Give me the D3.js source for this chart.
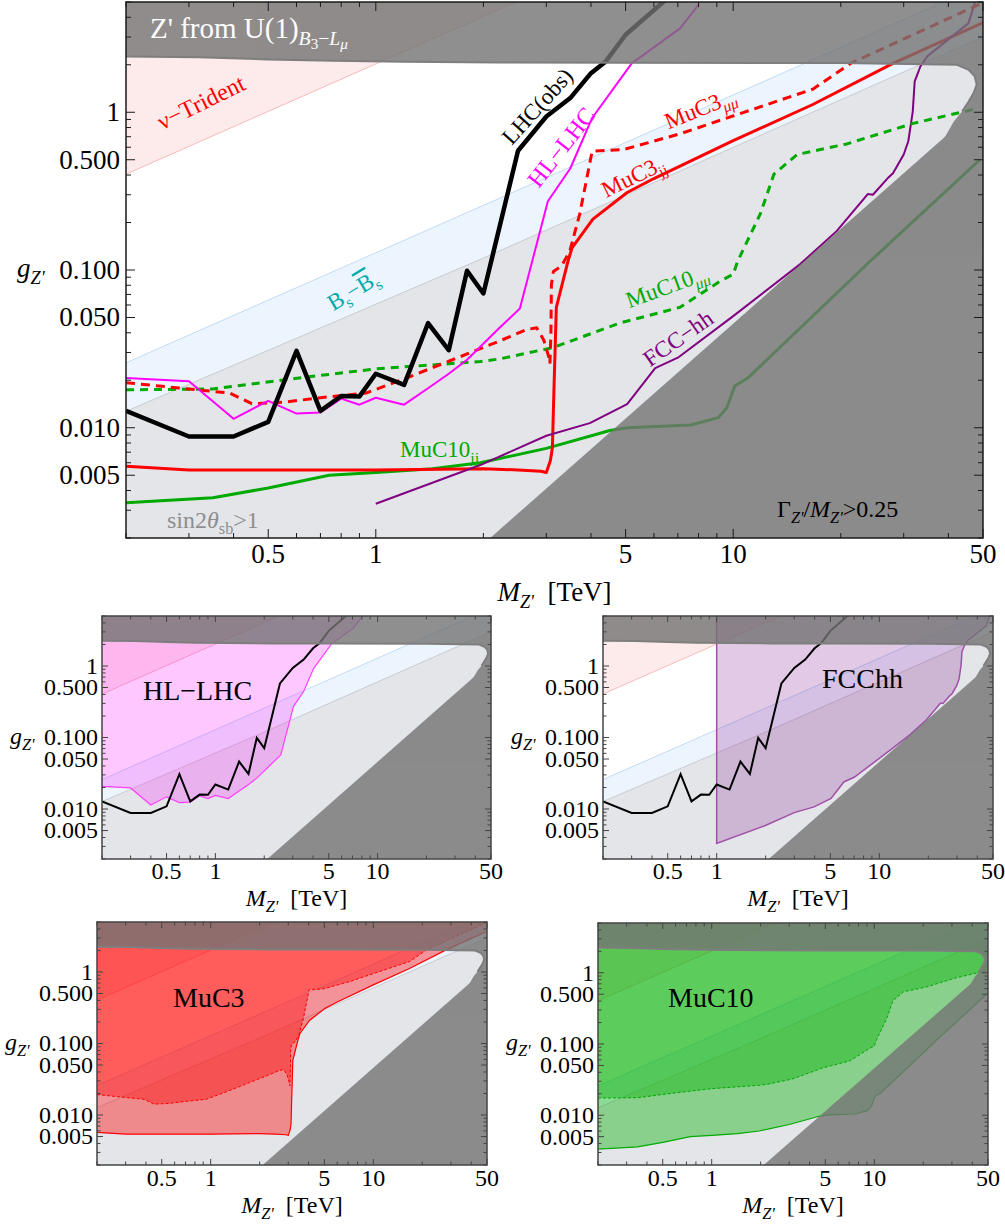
<!DOCTYPE html>
<html><head><meta charset="utf-8">
<script src="https://cdn.jsdelivr.net/npm/d3@7"></script>
<style>body{margin:0;background:#fff} text{font-family:"Liberation Serif","DejaVu Serif",serif}</style>
</head><body><svg id="c" width="1005" height="1225" font-family="Liberation Serif, DejaVu Serif, serif"></svg>
<script>
// ---------------- data ----------------
const massTicks = [0.5, 1, 5, 10, 50];
const massTickLabels = ["0.5", "1", "5", "10", "50"];
const couplingTicks = [1, 0.5, 0.1, 0.05, 0.01, 0.005];
const couplingTickLabels = ["1", "0.500", "0.100", "0.050", "0.010", "0.005"];

const lhcObs = [[0.2,0.0128],[0.3,0.0088],[0.4,0.0088],[0.5,0.0109],[0.6,0.0307],[0.7,0.0128],[0.8,0.0159],[0.9,0.0158],[1.0,0.022],[1.2,0.0187],[1.4,0.046],[1.6,0.031],[1.8,0.099],[2.0,0.071],[2.5,0.57],[3.0,0.94],[3.5,1.23],[4.0,1.77],[4.4,2.1],[5.0,3.1],[6.5,5.2]];
const hlLhc = [[0.2,0.0207],[0.3,0.0197],[0.4,0.0114],[0.5,0.0148],[0.6,0.0123],[0.7,0.0125],[0.8,0.0153],[0.9,0.014],[1.0,0.0155],[1.2,0.014],[1.4,0.0178],[1.6,0.022],[1.8,0.027],[2.22,0.043],[2.53,0.057],[3.03,0.273],[3.5,0.44],[4.03,0.92],[5.2,2.04],[7.1,3.4],[8.0,4.8]];
const muc3MuMu = [[0.2,0.0193],[0.3,0.0176],[0.39,0.0166],[0.45,0.0142],[0.55,0.0145],[0.7,0.0155],[0.94,0.0166],[1.2,0.0204],[1.6,0.0264],[2.22,0.0355],[2.65,0.042],[2.82,0.043],[2.95,0.036],[3.05,0.028],[3.07,0.0255],[3.09,0.039],[3.1,0.081],[3.14,0.098],[3.31,0.106],[3.49,0.132],[3.72,0.226],[4.03,0.566],[4.93,0.58],[7.1,0.73],[10.3,0.97],[16.7,1.40],[21.3,2.04],[49.5,4.9]];
const muc3JJ = [[0.2,0.0057],[0.3,0.0054],[0.5,0.0054],[1,0.0054],[2,0.0055],[2.5,0.0054],[2.9,0.0053],[3.0,0.0052],[3.08,0.0062],[3.12,0.0075],[3.15,0.017],[3.2,0.058],[3.45,0.114],[3.54,0.138],[4.05,0.21],[5.05,0.31],[6.0,0.38],[10,0.66],[16.7,1.12],[28,2.04],[50,3.7]];
const muc10MuMu = [[0.2,0.0174],[0.35,0.0176],[0.61,0.0207],[1,0.0236],[1.96,0.0263],[2.22,0.0273],[3.13,0.0322],[4.8,0.046],[7.1,0.058],[9.2,0.085],[10,0.094],[10.3,0.114],[11.9,0.226],[13,0.405],[15.1,0.54],[20.8,0.63],[31.9,0.85],[48.5,1.06]];
const muc10JJ = [[0.2,0.00335],[0.35,0.0036],[0.5,0.00415],[0.74,0.0050],[1,0.0052],[1.44,0.0055],[1.96,0.0060],[3,0.0074],[4.52,0.0096],[5.05,0.0100],[7.6,0.0104],[9.1,0.0116],[9.6,0.0134],[10.1,0.0184],[11,0.0207],[24.2,0.114],[49,0.5]];
const fccHH = [[1,0.0033],[1.96,0.0058],[3,0.0089],[3.97,0.0107],[5.05,0.0141],[6.05,0.0239],[7,0.0278],[10,0.051],[15.4,0.109],[19.5,0.177],[23.8,0.303],[24.6,0.30],[27,0.38],[28,0.41],[30,0.54],[30.9,0.655],[31.8,1.01],[32.2,1.57],[33.4,1.95],[34.9,2.26],[45.5,3.66],[47.6,5.05]];

// region boundaries
const topEdge = [[0.2,2.26],[0.32,2.23],[0.5,2.16],[0.76,2.12],[1.2,2.09],[2.2,2.07],[5,2.06],[20,2.05],[42.3,2.0],[45.6,1.86],[47.4,1.69],[48,1.5],[47.1,1.33],[45.6,1.17],[43.7,1.01],[41.5,0.88],[38,0.62]];
const sinEdge = [[0.2,0.0127],[2,0.119],[20,1.2],[50,3.0]];
const bsUpper = [[0.2,0.0258],[2.22,0.285],[40,5.16]];
const tridentEdge = [[0.2,0.405],[2.5,5.06]];
const widthEdge = [[2.09,0.002],[50,1.14]];

// ---------------- drawing ----------------
const svg = d3.select('#c');

function rich(sel, parts, fs) {
  let lvl = 0;
  const sz = l => l === 0 ? fs : (l === 1 ? fs * 0.68 : fs * 0.52);
  const off = l => l === 0 ? 0 : (l === 1 ? fs * 0.25 : fs * 0.38);
  parts.forEach(p => {
    const l = p.sub || 0;
    const ts = sel.append('tspan').text(p.t).attr('font-size', sz(l));
    const d = off(l) - off(lvl);
    if (d !== 0) ts.attr('dy', d);
    if (p.it) ts.attr('font-style', 'italic');
    if (p.ol) ts.style('text-decoration', 'overline');
    lvl = l;
  });
}

let clipN = 0;
function panel(cfg) {
  const xS = d3.scaleLog().domain([0.2, 50]).range([cfg.x0, cfg.x1]);
  const yS = d3.scaleLog().domain([0.002, 5]).range([cfg.y1, cfg.y0]);
  const line = d3.line().x(d => xS(d[0])).y(d => yS(d[1]));
  const id = 'clip' + (clipN++);
  svg.append('clipPath').attr('id', id).append('rect')
    .attr('x', cfg.x0).attr('y', cfg.y0).attr('width', cfg.x1 - cfg.x0).attr('height', cfg.y1 - cfg.y0);
  const g = svg.append('g').attr('clip-path', `url(#${id})`);

  // sin2theta > 1 (light gray) background
  g.append('rect').attr('x', cfg.x0).attr('y', cfg.y0).attr('width', cfg.x1 - cfg.x0).attr('height', cfg.y1 - cfg.y0).attr('fill', '#e3e5e9');
  g.append('path').attr('d', line([...sinEdge, [50, 6], [0.2, 6]]) + 'Z').attr('fill', '#ffffff');
  // Bs mixing band
  g.append('path').attr('d', line([...sinEdge, [50, 6], ...bsUpper.slice().reverse()]) + 'Z').attr('fill', '#a8cdf5').attr('opacity', 0.22);
  // nu-trident band
  g.append('path').attr('d', line([...tridentEdge, [2.5, 6], [0.2, 6]]) + 'Z').attr('fill', '#f5a0a0').attr('opacity', 0.22);
  g.append('path').attr('d', line(sinEdge)).attr('fill', 'none').attr('stroke', '#c9cbcf').attr('stroke-width', 1);
  g.append('path').attr('d', line(bsUpper)).attr('fill', 'none').attr('stroke', '#c2dbf4').attr('stroke-width', 1);
  g.append('path').attr('d', line(tridentEdge)).attr('fill', 'none').attr('stroke', '#f7bcbc').attr('stroke-width', 1);

  cfg.draw(g, line, xS, yS);

  // dark excluded regions
  const dk = g.append('g').attr('opacity', 0.8);
  dk.append('path').attr('d', line([[0.2, 6], ...topEdge, [50, 0.62], [50, 6]]) + 'Z').attr('fill', '#747474');
  dk.append('path').attr('d', line([...widthEdge, [50, 0.001], [1.5, 0.001]]) + 'Z').attr('fill', '#747474');
  g.append('path').attr('d', line(topEdge.slice(0, 15))).attr('fill', 'none').attr('stroke', '#7e7e7e').attr('stroke-width', 2);

  if (cfg.after) cfg.after(g, line, xS, yS);

  // frame
  svg.append('rect').attr('x', cfg.x0).attr('y', cfg.y0).attr('width', cfg.x1 - cfg.x0).attr('height', cfg.y1 - cfg.y0)
    .attr('fill', 'none').attr('stroke', cfg.frame).attr('stroke-width', cfg.fw);
  // ticks
  const tk = svg.append('g').attr('stroke', cfg.frame).attr('stroke-width', 1);
  const isMaj = (arr, v) => arr.some(a => Math.abs(a - v) / a < 1e-6);
  xS.ticks().forEach(v => {
    const L = isMaj(massTicks, v) ? cfg.tMaj : cfg.tMin, x = xS(v);
    tk.append('line').attr('x1', x).attr('x2', x).attr('y1', cfg.y1).attr('y2', cfg.y1 - L);
    tk.append('line').attr('x1', x).attr('x2', x).attr('y1', cfg.y0).attr('y2', cfg.y0 + L);
  });
  yS.ticks().forEach(v => {
    const L = isMaj(couplingTicks, v) ? cfg.tMaj : cfg.tMin, y = yS(v);
    tk.append('line').attr('x1', cfg.x0).attr('x2', cfg.x0 + L).attr('y1', y).attr('y2', y);
    tk.append('line').attr('x1', cfg.x1).attr('x2', cfg.x1 - L).attr('y1', y).attr('y2', y);
  });
  // tick labels
  massTicks.forEach((v, i) => {
    svg.append('text').attr('x', xS(v)).attr('y', cfg.xlabY).attr('text-anchor', 'middle')
      .attr('font-size', cfg.fs).attr('fill', '#000').text(massTickLabels[i]);
  });
  couplingTicks.forEach((v, i) => {
    svg.append('text').attr('x', cfg.x0 - cfg.lgap).attr('y', yS(v) + cfg.fs * 0.33).attr('text-anchor', 'end')
      .attr('font-size', cfg.fs).attr('fill', '#000').text(couplingTickLabels[i]);
  });
  // axis titles
  const xt = svg.append('text').attr('x', (cfg.x0 + cfg.x1) / 2).attr('y', cfg.titleY).attr('text-anchor', 'middle').attr('font-size', cfg.fs);
  rich(xt, [{t: 'M', it: 1}, {t: "Z'", sub: 1, it: 1}, {t: '\u00a0\u00a0[TeV]'}], cfg.fs);
  const yt = svg.append('text').attr('x', cfg.ylabX).attr('y', yS(0.1) + cfg.fs * 0.25).attr('font-size', cfg.fs);
  rich(yt, [{t: 'g', it: 1}, {t: "Z'", sub: 1, it: 1}], cfg.fs);
}

function label(g, cx, cy, ang, color, fs, parts) {
  const t = g.append('text').attr('transform', `translate(${cx},${cy}) rotate(${ang})`)
    .attr('text-anchor', 'middle').attr('y', fs * 0.35).attr('fill', color).attr('font-size', fs);
  rich(t, parts, fs);
}
function plain(g, x, y, color, fs, parts) {
  const t = g.append('text').attr('x', x).attr('y', y).attr('fill', color).attr('font-size', fs);
  rich(t, parts, fs);
}

// ---------- main panel ----------
panel({
  x0: 126, x1: 983, y0: 2, y1: 538, fs: 27, tMaj: 9, tMin: 5, xlabY: 563, titleY: 601, ylabX: 17, lgap: 6,
  frame: '#1a1a1a', fw: 1.5,
  draw: (g, line) => {
    const L = (data, color, w, dash) => {
      const p = g.append('path').attr('d', line(data)).attr('fill', 'none').attr('stroke', color)
        .attr('stroke-width', w).attr('stroke-linejoin', 'round');
      if (dash) p.attr('stroke-dasharray', dash);
    };
    L(muc10JJ, '#00aa00', 3);
    L(muc3JJ, '#ff0000', 3);
    L(fccHH, '#800080', 2);
    L(muc10MuMu, '#00aa00', 3, '8,6');
    L(muc3MuMu, '#ff0000', 3, '9,6');
    L(hlLhc, '#ff00ff', 2);
    L(lhcObs, '#000000', 4.5);
  },
  after: (g) => {
    plain(g, 150, 38, '#ffffff', 29, [{t: "Z' from U(1)"}, {t: 'B', sub: 1, it: 1}, {t: '3', sub: 2}, {t: '\u2212', sub: 1}, {t: 'L', sub: 1, it: 1}, {t: '\u03bc', sub: 2, it: 1}]);
    label(g, 201, 102, -26, '#ff0000', 24, [{t: '\u03bd\u2212Trident'}]);
    label(g, 537, 106, -48, '#000000', 23, [{t: 'LHC(obs)'}]);
    label(g, 561, 147, -52, '#ff00ff', 24, [{t: 'HL\u2212LHC'}]);
    label(g, 700, 108, -22, '#ff0000', 23, [{t: 'MuC3'}, {t: '\u03bc\u03bc', sub: 1, it: 1}]);
    label(g, 633, 176, -26, '#ff0000', 23, [{t: 'MuC3'}, {t: 'jj', sub: 1}]);
    label(g, 353, 290, -31, '#00aaaa', 23, [{t: 'B'}, {t: 's', sub: 1}, {t: '\u2212'}, {t: 'B', ol: 1}, {t: 's', sub: 1}]);
    label(g, 667, 286, -20, '#00aa00', 23, [{t: 'MuC10'}, {t: '\u03bc\u03bc', sub: 1, it: 1}]);
    label(g, 678, 338, -35, '#800080', 23, [{t: 'FCC\u2212hh'}]);
    plain(g, 400, 457, '#00aa00', 23, [{t: 'MuC10'}, {t: 'jj', sub: 1}]);
    plain(g, 167, 528, '#8e8e8e', 24, [{t: 'sin2'}, {t: '\u03b8', it: 1}, {t: 'sb', sub: 1}, {t: '>1'}]);
    plain(g, 777, 517, '#000000', 24, [{t: '\u0393'}, {t: "Z'", sub: 1, it: 1}, {t: '/'}, {t: 'M', it: 1}, {t: "Z'", sub: 1, it: 1}, {t: '>0.25'}]);
  }
});

// ---------- insets ----------
const insetBase = {fs: 24, tMaj: 6, tMin: 3.5, lgap: 4, frame: '#444', fw: 1.5};

panel(Object.assign({}, insetBase, {
  x0: 102, x1: 491, y0: 616, y1: 859, xlabY: 879, titleY: 906, ylabX: 10,
  draw: (g, line) => {
    g.append('path').attr('d', line([...hlLhc, [8.3, 6], [0.2, 6]]) + 'Z').attr('fill', '#ff00ff').attr('opacity', 0.22);
    g.append('path').attr('d', line(hlLhc)).attr('fill', 'none').attr('stroke', '#ff40ff').attr('stroke-width', 1.2);
    g.append('path').attr('d', line(lhcObs)).attr('fill', 'none').attr('stroke', '#000').attr('stroke-width', 2);
  },
  after: (g) => plain(g, 143, 700, '#000', 28, [{t: 'HL\u2212LHC'}])
}));

panel(Object.assign({}, insetBase, {
  x0: 603, x1: 993, y0: 616, y1: 859, xlabY: 879, titleY: 906, ylabX: 511,
  draw: (g, line) => {
    g.append('path').attr('d', line([[1, 6], ...fccHH, [48, 6]]) + 'Z').attr('fill', '#8c2896').attr('opacity', 0.25);
    g.append('path').attr('d', line([[1, 6], ...fccHH])).attr('fill', 'none').attr('stroke', '#a050a8').attr('stroke-width', 1.5);
    g.append('path').attr('d', line(lhcObs)).attr('fill', 'none').attr('stroke', '#000').attr('stroke-width', 2);
  },
  after: (g) => plain(g, 822, 688, '#000', 28, [{t: 'FCChh'}])
}));

panel(Object.assign({}, insetBase, {
  x0: 97, x1: 487, y0: 922, y1: 1165, xlabY: 1186, titleY: 1213, ylabX: 5,
  draw: (g, line) => {
    g.append('path').attr('d', line([...muc3JJ, [50, 6], [0.2, 6]]) + 'Z').attr('fill', '#ff0000').attr('opacity', 0.4);
    g.append('path').attr('d', line([...muc3MuMu, [50, 6], [0.2, 6]]) + 'Z').attr('fill', '#ff0000').attr('opacity', 0.4);
    g.append('path').attr('d', line(muc3JJ)).attr('fill', 'none').attr('stroke', '#ff0000').attr('stroke-width', 1.2);
    g.append('path').attr('d', line(muc3MuMu)).attr('fill', 'none').attr('stroke', '#ff0000').attr('stroke-width', 1).attr('stroke-dasharray', '3,2');
  },
  after: (g) => plain(g, 173, 1007, '#000', 28, [{t: 'MuC3'}])
}));

panel(Object.assign({}, insetBase, {
  x0: 598, x1: 988, y0: 923, y1: 1165, xlabY: 1186, titleY: 1213, ylabX: 506,
  draw: (g, line) => {
    g.append('path').attr('d', line([...muc10JJ, [50, 0.52], [50, 6], [0.2, 6]]) + 'Z').attr('fill', '#00b100').attr('opacity', 0.4);
    g.append('path').attr('d', line([...muc10MuMu, [50, 1.08], [50, 6], [0.2, 6]]) + 'Z').attr('fill', '#00b100').attr('opacity', 0.4);
    g.append('path').attr('d', line(muc10JJ)).attr('fill', 'none').attr('stroke', '#00aa00').attr('stroke-width', 1.2);
    g.append('path').attr('d', line(muc10MuMu)).attr('fill', 'none').attr('stroke', '#00aa00').attr('stroke-width', 1).attr('stroke-dasharray', '3,2');
  },
  after: (g) => plain(g, 668, 1007, '#000', 28, [{t: 'MuC10'}])
}));
</script></body></html>
